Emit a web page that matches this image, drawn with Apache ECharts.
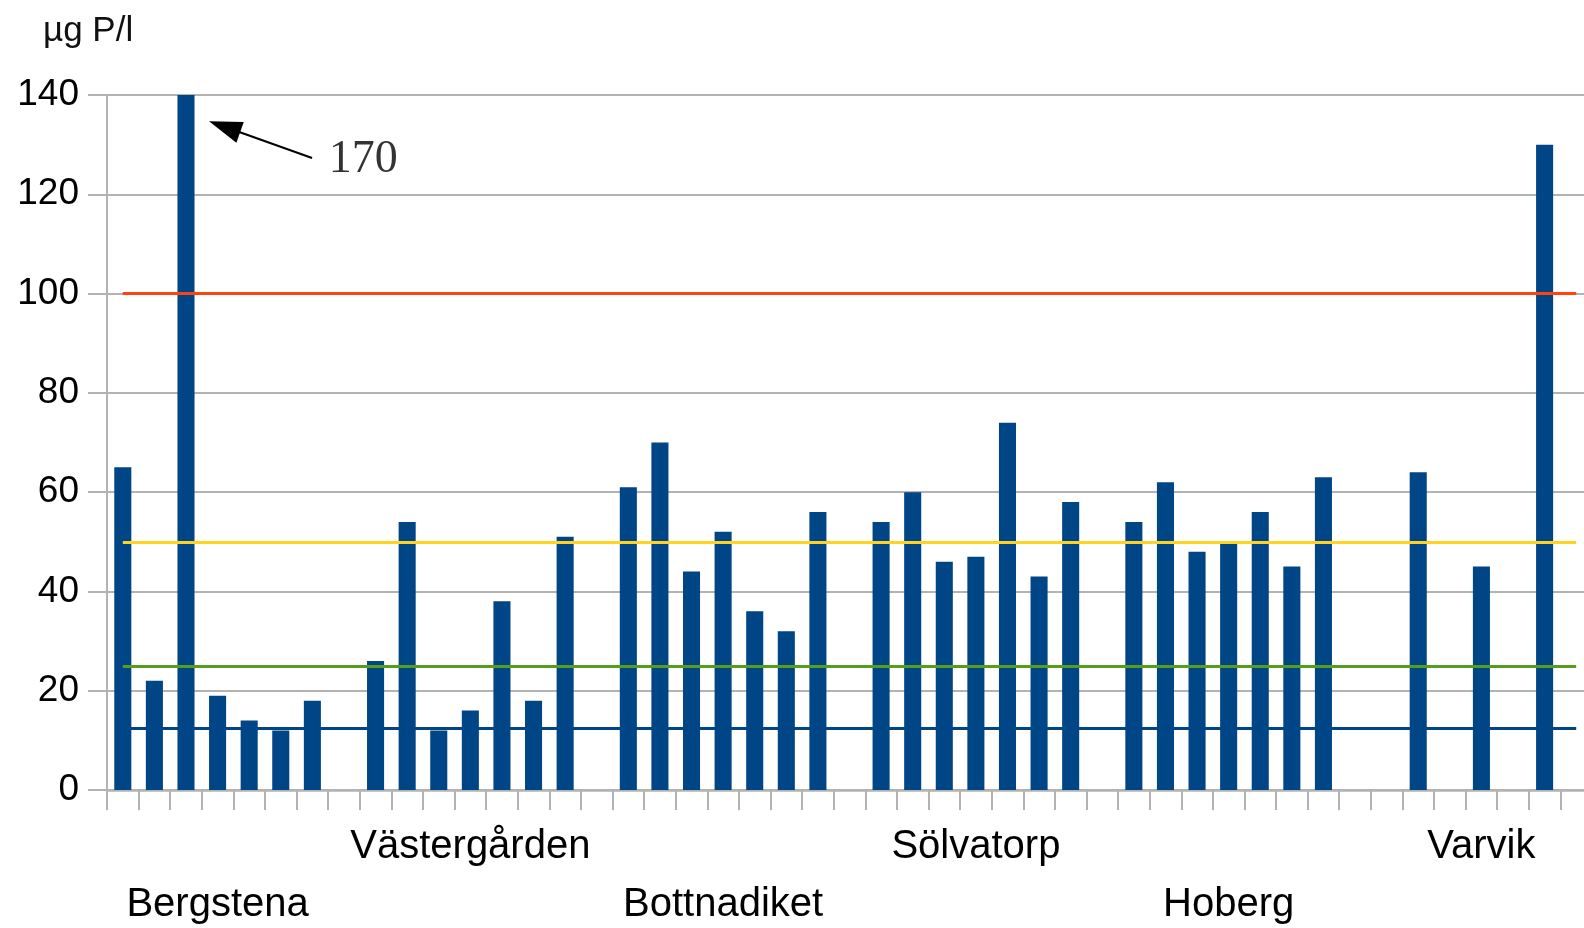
<!DOCTYPE html>
<html>
<head>
<meta charset="utf-8">
<script src="https://cdn.jsdelivr.net/npm/echarts@6/dist/echarts.min.js"></script>
<style>html,body{margin:0;padding:0;background:#fff;overflow:hidden;}#c{width:1584px;height:928px;}</style>
</head>
<body>
<div id="c"></div>
<script>
// ---- data ----
const sites = ['Bergstena', 'Västergården', 'Bottnadiket', 'Sölvatorp', 'Hoberg', 'Varvik'];
const bergstena    = [65, 22, 170, 19, 14, 12, 18];
const vastergarden = [26, 54, 12, 16, 38, 18, 51];
const bottnadiket  = [61, 70, 44, 52, 36, 32, 56];
const solvatorp    = [54, 60, 46, 47, 74, 43, 58];
const hoberg       = [54, 62, 48, 50, 56, 45, 63];
const varvik       = [null, 64, null, 45, null, 130, null];
const siteValues = [bergstena, vastergarden, bottnadiket, solvatorp, hoberg, varvik];

const yTicks = [0, 20, 40, 60, 80, 100, 120, 140];
const thresholds = [100, 50, 25, 12.5];
const thresholdColors = ['#ff420e', '#ffd320', '#579d1c', '#004586'];
const unitLabel = 'µg P/l';
// annotation: off-scale value of the third Bergstena sample
const annotText = '170';
const annotArrowFrom = [5.99, 127.3];
const annotArrowTo = [3.22, 133.6];
const annotTextAt = [6.5, 126.9];

// ---- build categories ----
const categories = [];
const values = [];
const labelOf = {};
sites.forEach((s, si) => {
  siteValues[si].forEach((v, k) => {
    const name = s + ' ' + (k + 1);
    if (k === 3) labelOf[categories.length] = { site: s, row: si % 2 === 0 ? 1 : 0 };
    categories.push(name);
    values.push(v);
  });
  if (si < sites.length - 1) { categories.push('gap' + si); values.push(null); }
});
const lastIdx = categories.length - 1;

const gridColor = '#b3b3b3';
const chart = echarts.init(document.getElementById('c'));
chart.setOption({
  animation: false,
  title: {
    text: unitLabel, left: 38, top: 9,
    textStyle: { fontFamily: 'Liberation Sans', fontSize: 35, fontWeight: 'normal', color: '#111' }
  },
  grid: { left: 107, top: 95, width: 1485, height: 695, outerBoundsMode: 'none', containLabel: false },
  xAxis: [{
    type: 'category',
    data: categories,
    boundaryGap: true,
    axisLine: { lineStyle: { color: gridColor, width: 2.5 } },
    axisTick: { show: true, interval: 0, length: 20, lineStyle: { color: gridColor, width: 2 } },
    axisLabel: {
      interval: 0, margin: 28,
      fontFamily: 'Liberation Sans', fontSize: 40, color: '#000', lineHeight: 58,
      formatter: (val, idx) => {
        const l = labelOf[idx];
        if (!l) return '';
        return l.row === 0 ? l.site + '\n ' : ' \n' + l.site;
      }
    },
    splitLine: { show: false }
  }, {
    type: 'value', min: -0.5, max: lastIdx + 0.5, show: false
  }],
  yAxis: {
    type: 'value', min: 0, max: 140, interval: 20,
    axisLine: { show: true, onZero: false, lineStyle: { color: gridColor, width: 2 } },
    axisTick: { show: true, length: 19, lineStyle: { color: gridColor, width: 2 } },
    axisLabel: {
      margin: 28, fontFamily: 'Liberation Sans', fontSize: 37, color: '#000',
      formatter: v => (yTicks.indexOf(v) >= 0 ? String(v) : '')
    },
    splitLine: { lineStyle: { color: gridColor, width: 2 } }
  },
  series: [{
    type: 'bar',
    data: values,
    barWidth: '54%',
    itemStyle: { color: '#004586' },
    markLine: {
      silent: true, symbol: ['none', 'none'], z: 5,
      label: { show: false },
      data: thresholds.map((t, i) => [
        { coord: [0, t], lineStyle: { color: thresholdColors[i], width: 3, type: 'solid' } },
        { coord: [lastIdx, t] }
      ])
    }
  }, {
    type: 'scatter',
    xAxisIndex: 1,
    data: [annotTextAt],
    symbolSize: 1,
    itemStyle: { color: 'rgba(0,0,0,0)' },
    label: {
      show: true, position: 'right', distance: 0, formatter: annotText,
      fontFamily: 'Liberation Serif', fontSize: 46, color: '#000'
    },
    markLine: {
      silent: true,
      symbol: ['none', 'triangle'],
      symbolSize: [22, 33],
      label: { show: false },
      lineStyle: { color: '#000', width: 2, type: 'solid' },
      data: [[{ coord: annotArrowFrom }, { coord: annotArrowTo }]]
    }
  }]
});
</script>
</body>
</html>
